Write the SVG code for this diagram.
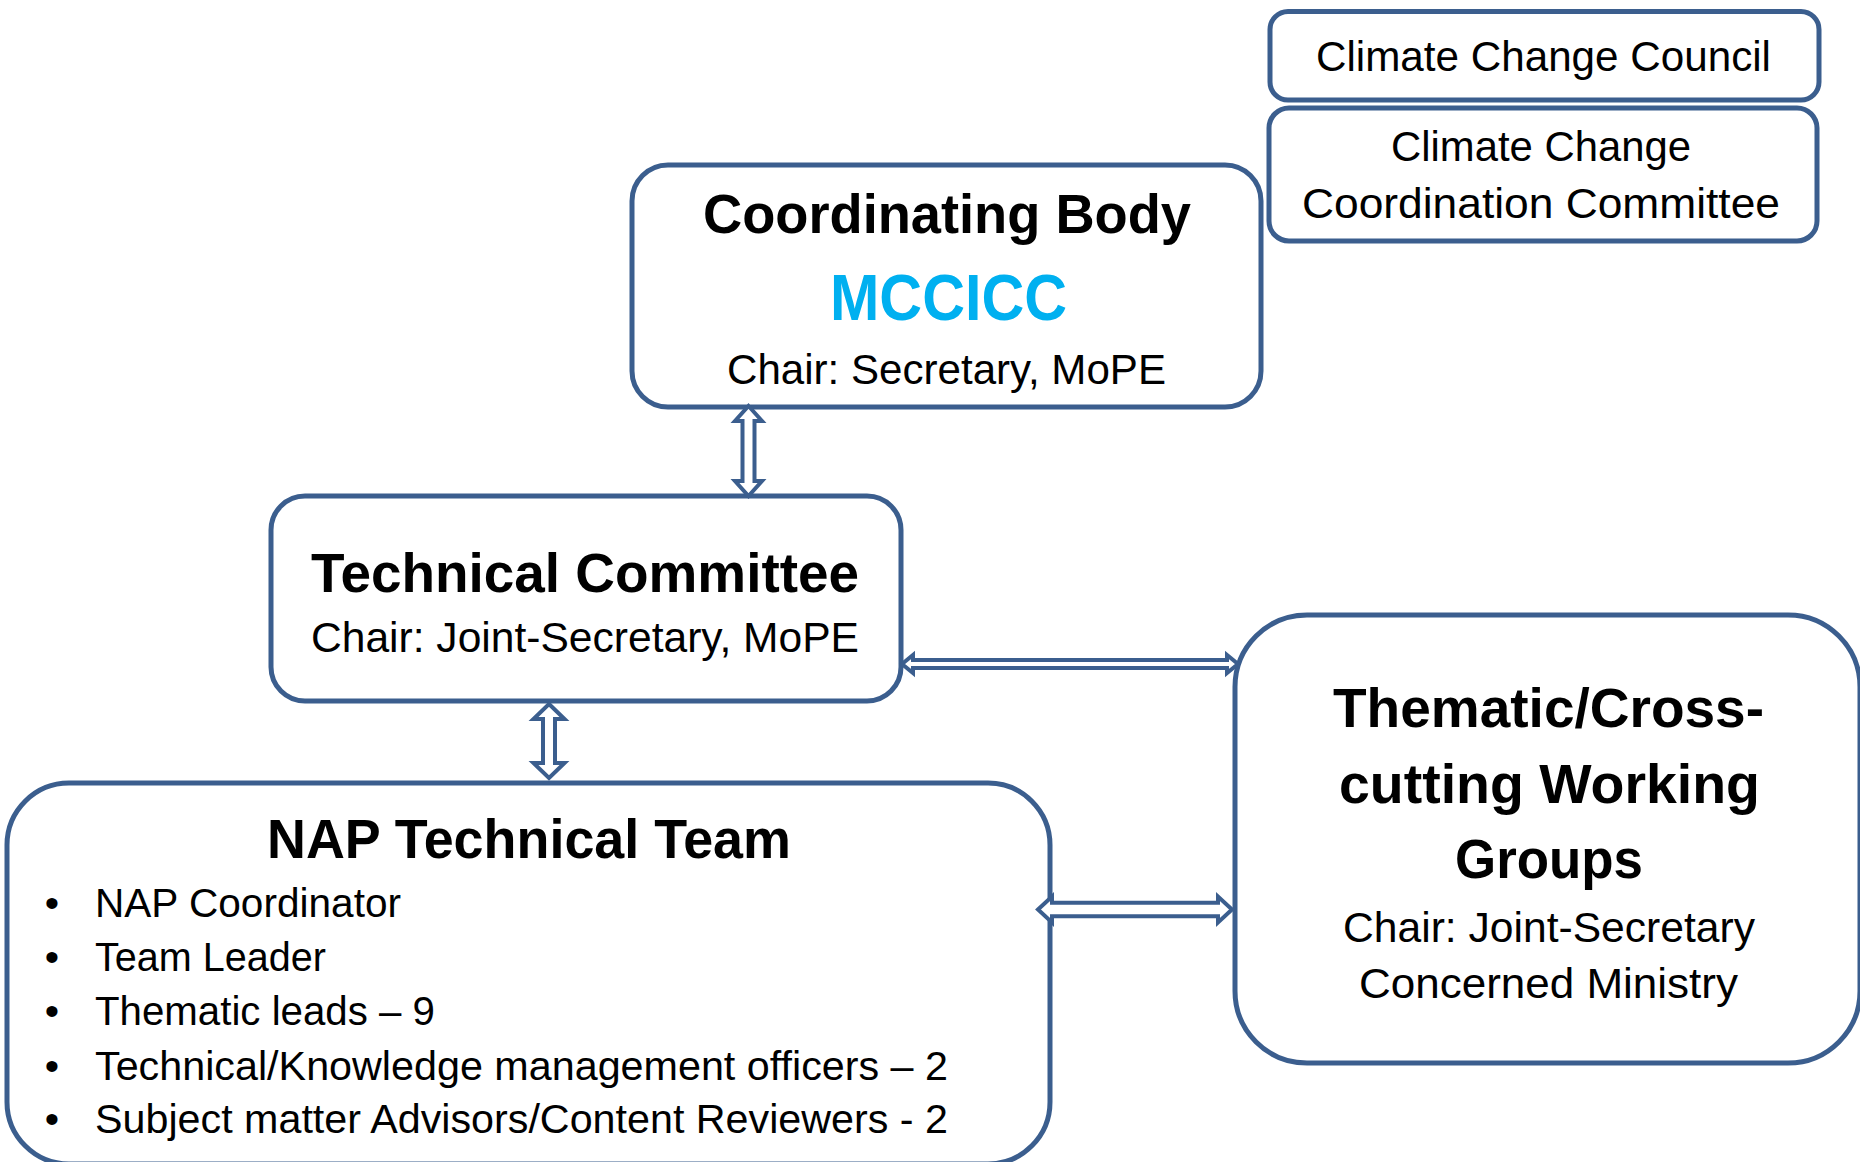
<svg xmlns="http://www.w3.org/2000/svg" width="1860" height="1162" viewBox="0 0 1860 1162">
<style>
.box{fill:#ffffff;stroke:#3B5E8E;stroke-width:5}
.arr{fill:#ffffff;stroke:#3B5E8E;stroke-width:4;stroke-linejoin:miter}
text{font-family:"Liberation Sans",Arial,sans-serif;fill:#000000}
.b{font-weight:bold;font-size:55px}
.r{font-size:42px}
.l{font-size:41px}
</style>
<rect width="1860" height="1162" fill="#ffffff"/>
<g id="climate-change-council">
<rect class="box" x="1270" y="11.5" width="549" height="88.5" rx="18"/>
<text class="r" x="1316" y="71" textLength="455" lengthAdjust="spacingAndGlyphs">Climate Change Council</text>
</g>
<g id="climate-change-coordination-committee">
<rect class="box" x="1269" y="108" width="548" height="133" rx="20"/>
<text class="r" x="1391" y="161" textLength="300" lengthAdjust="spacingAndGlyphs">Climate Change</text>
<text class="r" x="1302" y="218" textLength="478" lengthAdjust="spacingAndGlyphs">Coordination Committee</text>
</g>
<g id="coordinating-body">
<rect class="box" x="632" y="165" width="629" height="242" rx="36"/>
<text class="b" x="703" y="233" textLength="488" lengthAdjust="spacingAndGlyphs">Coordinating Body</text>
<text class="b" x="830" y="320" style="font-size:64px;fill:#00B0F0" textLength="237" lengthAdjust="spacingAndGlyphs">MCCICC</text>
<text class="r" x="727" y="384" textLength="439" lengthAdjust="spacingAndGlyphs">Chair: Secretary, MoPE</text>
</g>
<g id="technical-committee">
<rect class="box" x="271" y="496" width="630" height="205" rx="34"/>
<text class="b" x="311" y="592" textLength="548" lengthAdjust="spacingAndGlyphs">Technical Committee</text>
<text class="r" x="311" y="652" textLength="548" lengthAdjust="spacingAndGlyphs">Chair: Joint-Secretary, MoPE</text>
</g>
<g id="nap-technical-team">
<rect class="box" x="7" y="783" width="1043" height="381" rx="62"/>
<text class="b" x="267" y="858" textLength="524" lengthAdjust="spacingAndGlyphs">NAP Technical Team</text>
<text class="l" x="52" y="917" text-anchor="middle">•</text>
<text class="l" x="95" y="917" textLength="306" lengthAdjust="spacingAndGlyphs">NAP Coordinator</text>
<text class="l" x="52" y="971" text-anchor="middle">•</text>
<text class="l" x="95" y="971" textLength="231" lengthAdjust="spacingAndGlyphs">Team Leader</text>
<text class="l" x="52" y="1025" text-anchor="middle">•</text>
<text class="l" x="95" y="1025" textLength="340" lengthAdjust="spacingAndGlyphs">Thematic leads – 9</text>
<text class="l" x="52" y="1080" text-anchor="middle">•</text>
<text class="l" x="95" y="1080" textLength="853" lengthAdjust="spacingAndGlyphs">Technical/Knowledge management officers – 2</text>
<text class="l" x="52" y="1133" text-anchor="middle">•</text>
<text class="l" x="95" y="1133" textLength="853" lengthAdjust="spacingAndGlyphs">Subject matter Advisors/Content Reviewers - 2</text>
</g>
<g id="thematic-working-groups">
<rect class="box" x="1235" y="615" width="625" height="448" rx="72"/>
<text class="b" x="1333" y="727" textLength="431" lengthAdjust="spacingAndGlyphs">Thematic/Cross-</text>
<text class="b" x="1339" y="803" textLength="421" lengthAdjust="spacingAndGlyphs">cutting Working</text>
<text class="b" x="1455" y="878" textLength="188" lengthAdjust="spacingAndGlyphs">Groups</text>
<text class="r" x="1343" y="942" textLength="412" lengthAdjust="spacingAndGlyphs">Chair: Joint-Secretary</text>
<text class="r" x="1359" y="998" textLength="379" lengthAdjust="spacingAndGlyphs">Concerned Ministry</text>
</g>
<g id="connectors">
<path class="arr" d="M748.5,406 L762,421 L754.5,421 L754.5,481 L762,481 L748.5,496 L735,481 L742.5,481 L742.5,421 L735,421 Z"/>
<path class="arr" d="M549,704 L564.5,719 L555,719 L555,763 L564.5,763 L549,778 L533.5,763 L543,763 L543,719 L533.5,719 Z"/>
<path class="arr" d="M902,664 L913,655 L913,660 L1227,660 L1227,655 L1238,664 L1227,673 L1227,668 L913,668 L913,673 Z"/>
<path class="arr" d="M1038,909.5 L1052,896.5 L1052,902.8 L1218,902.8 L1218,896.5 L1232,909.5 L1218,922.5 L1218,916.2 L1052,916.2 L1052,922.5 Z"/>
</g>
</svg>
